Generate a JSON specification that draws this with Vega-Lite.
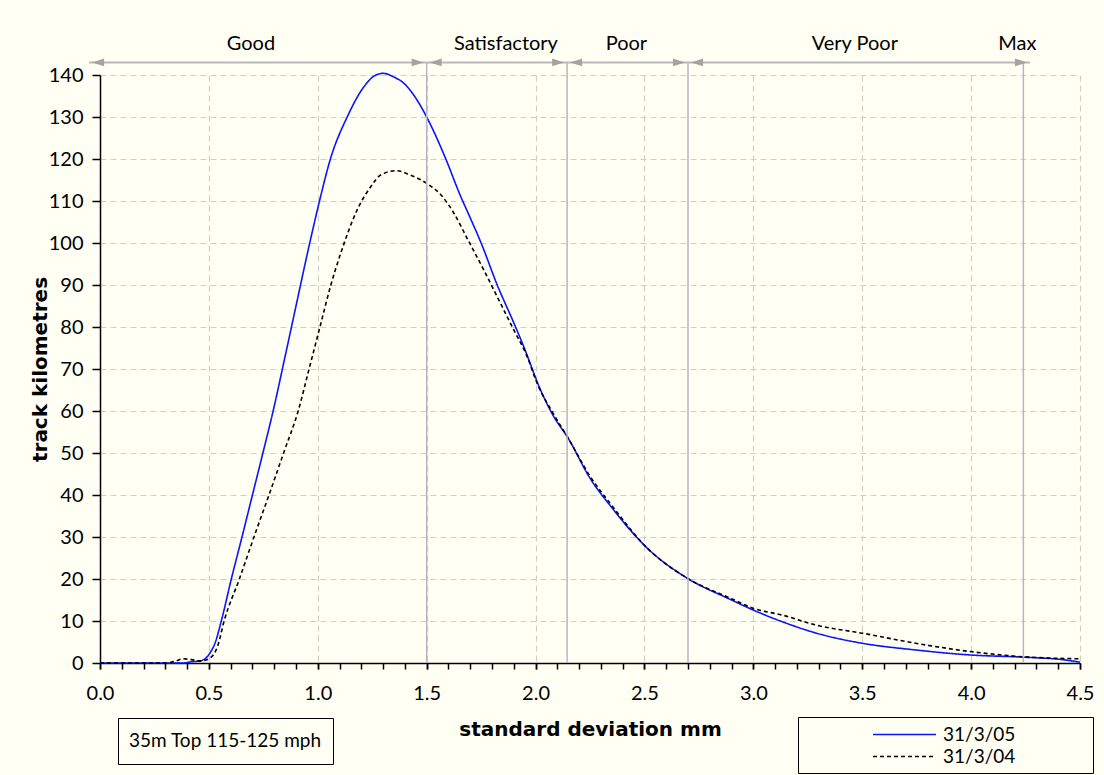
{
  "$schema": "https://vega.github.io/schema/vega-lite/v6.json",
  "width": 980,
  "height": 588,
  "autosize": {"type": "none"},
  "padding": {"left": 100, "top": 75, "right": 24, "bottom": 112},
  "background": "#fffff4",
  "config": {"font": "Lato", "view": {"stroke": null}},
  "resolve": {"axis": {"x": "independent"}},
  "datasets": {
    "curves": [
      {"sd": 0, "km": 0, "date": "31/3/05"},
      {"sd": 0.1, "km": 0, "date": "31/3/05"},
      {"sd": 0.2, "km": 0, "date": "31/3/05"},
      {"sd": 0.3, "km": 0, "date": "31/3/05"},
      {"sd": 0.38, "km": 0, "date": "31/3/05"},
      {"sd": 0.42, "km": 0.3, "date": "31/3/05"},
      {"sd": 0.46, "km": 0.5, "date": "31/3/05"},
      {"sd": 0.5, "km": 2, "date": "31/3/05"},
      {"sd": 0.53, "km": 5, "date": "31/3/05"},
      {"sd": 0.557, "km": 10, "date": "31/3/05"},
      {"sd": 0.603, "km": 20, "date": "31/3/05"},
      {"sd": 0.652, "km": 30, "date": "31/3/05"},
      {"sd": 0.7, "km": 40, "date": "31/3/05"},
      {"sd": 0.748, "km": 50, "date": "31/3/05"},
      {"sd": 0.795, "km": 60, "date": "31/3/05"},
      {"sd": 0.85, "km": 73, "date": "31/3/05"},
      {"sd": 0.9, "km": 85, "date": "31/3/05"},
      {"sd": 0.963, "km": 100, "date": "31/3/05"},
      {"sd": 1.008, "km": 110, "date": "31/3/05"},
      {"sd": 1.058, "km": 120, "date": "31/3/05"},
      {"sd": 1.135, "km": 130, "date": "31/3/05"},
      {"sd": 1.212, "km": 137.2, "date": "31/3/05"},
      {"sd": 1.26, "km": 139.8, "date": "31/3/05"},
      {"sd": 1.3, "km": 140.4, "date": "31/3/05"},
      {"sd": 1.35, "km": 139.5, "date": "31/3/05"},
      {"sd": 1.396, "km": 138, "date": "31/3/05"},
      {"sd": 1.45, "km": 134.5, "date": "31/3/05"},
      {"sd": 1.5, "km": 130, "date": "31/3/05"},
      {"sd": 1.58, "km": 121, "date": "31/3/05"},
      {"sd": 1.657, "km": 111, "date": "31/3/05"},
      {"sd": 1.7, "km": 106, "date": "31/3/05"},
      {"sd": 1.75, "km": 100, "date": "31/3/05"},
      {"sd": 1.824, "km": 90, "date": "31/3/05"},
      {"sd": 1.9, "km": 81, "date": "31/3/05"},
      {"sd": 1.946, "km": 75.3, "date": "31/3/05"},
      {"sd": 2.023, "km": 65, "date": "31/3/05"},
      {"sd": 2.08, "km": 59, "date": "31/3/05"},
      {"sd": 2.15, "km": 53.5, "date": "31/3/05"},
      {"sd": 2.25, "km": 44, "date": "31/3/05"},
      {"sd": 2.35, "km": 37, "date": "31/3/05"},
      {"sd": 2.52, "km": 27, "date": "31/3/05"},
      {"sd": 2.69, "km": 20.4, "date": "31/3/05"},
      {"sd": 2.9, "km": 15, "date": "31/3/05"},
      {"sd": 3.0, "km": 12.6, "date": "31/3/05"},
      {"sd": 3.134, "km": 9.8, "date": "31/3/05"},
      {"sd": 3.29, "km": 7.1, "date": "31/3/05"},
      {"sd": 3.5, "km": 4.7, "date": "31/3/05"},
      {"sd": 3.746, "km": 3.1, "date": "31/3/05"},
      {"sd": 4.0, "km": 1.9, "date": "31/3/05"},
      {"sd": 4.235, "km": 1.4, "date": "31/3/05"},
      {"sd": 4.42, "km": 0.8, "date": "31/3/05"},
      {"sd": 4.5, "km": 0.2, "date": "31/3/05"},
      {"sd": 0, "km": 0, "date": "31/3/04"},
      {"sd": 0.3, "km": 0, "date": "31/3/04"},
      {"sd": 0.35, "km": 0.5, "date": "31/3/04"},
      {"sd": 0.38, "km": 1, "date": "31/3/04"},
      {"sd": 0.42, "km": 0.8, "date": "31/3/04"},
      {"sd": 0.46, "km": 0.5, "date": "31/3/04"},
      {"sd": 0.5, "km": 1, "date": "31/3/04"},
      {"sd": 0.54, "km": 4, "date": "31/3/04"},
      {"sd": 0.57, "km": 10, "date": "31/3/04"},
      {"sd": 0.64, "km": 20, "date": "31/3/04"},
      {"sd": 0.707, "km": 30, "date": "31/3/04"},
      {"sd": 0.776, "km": 40, "date": "31/3/04"},
      {"sd": 0.843, "km": 50, "date": "31/3/04"},
      {"sd": 0.91, "km": 60, "date": "31/3/04"},
      {"sd": 0.96, "km": 70, "date": "31/3/04"},
      {"sd": 1.01, "km": 80, "date": "31/3/04"},
      {"sd": 1.06, "km": 90, "date": "31/3/04"},
      {"sd": 1.105, "km": 97.5, "date": "31/3/04"},
      {"sd": 1.182, "km": 108, "date": "31/3/04"},
      {"sd": 1.243, "km": 113.4, "date": "31/3/04"},
      {"sd": 1.289, "km": 116.2, "date": "31/3/04"},
      {"sd": 1.36, "km": 117.2, "date": "31/3/04"},
      {"sd": 1.42, "km": 116.3, "date": "31/3/04"},
      {"sd": 1.5, "km": 114.2, "date": "31/3/04"},
      {"sd": 1.565, "km": 111.5, "date": "31/3/04"},
      {"sd": 1.626, "km": 107, "date": "31/3/04"},
      {"sd": 1.687, "km": 101, "date": "31/3/04"},
      {"sd": 1.762, "km": 93.6, "date": "31/3/04"},
      {"sd": 1.824, "km": 87.2, "date": "31/3/04"},
      {"sd": 1.9, "km": 79.3, "date": "31/3/04"},
      {"sd": 1.962, "km": 72.9, "date": "31/3/04"},
      {"sd": 2.007, "km": 66.6, "date": "31/3/04"},
      {"sd": 2.08, "km": 59.5, "date": "31/3/04"},
      {"sd": 2.15, "km": 53.5, "date": "31/3/04"},
      {"sd": 2.25, "km": 44.5, "date": "31/3/04"},
      {"sd": 2.35, "km": 37.5, "date": "31/3/04"},
      {"sd": 2.52, "km": 27, "date": "31/3/04"},
      {"sd": 2.69, "km": 20.4, "date": "31/3/04"},
      {"sd": 2.9, "km": 15.3, "date": "31/3/04"},
      {"sd": 3.0, "km": 13, "date": "31/3/04"},
      {"sd": 3.134, "km": 11.4, "date": "31/3/04"},
      {"sd": 3.29, "km": 9.0, "date": "31/3/04"},
      {"sd": 3.5, "km": 7.1, "date": "31/3/04"},
      {"sd": 3.746, "km": 4.7, "date": "31/3/04"},
      {"sd": 4.0, "km": 2.7, "date": "31/3/04"},
      {"sd": 4.235, "km": 1.5, "date": "31/3/04"},
      {"sd": 4.5, "km": 1.0, "date": "31/3/04"}
    ],
    "bounds": [{"b": 1.5}, {"b": 2.145}, {"b": 2.7}, {"b": 4.24}],
    "zones": [
      {"zone": "Good", "start": -0.05, "end": 1.5},
      {"zone": "Satisfactory", "start": 1.5, "end": 2.145},
      {"zone": "Poor", "start": 2.145, "end": 2.7},
      {"zone": "Very Poor", "start": 2.7, "end": 4.27}
    ],
    "zoneLabels": [
      {"label": "Good", "lx": 0.693},
      {"label": "Satisfactory", "lx": 1.864},
      {"label": "Poor", "lx": 2.417},
      {"label": "Very Poor", "lx": 3.466},
      {"label": "Max", "lx": 4.212}
    ],
    "note": [{"note": "35m Top 115-125 mph"}]
  },
  "layer": [
    {
      "data": {"name": "curves"},
      "mark": {"type": "line", "interpolate": "monotone", "strokeWidth": 1.6},
      "encoding": {
        "x": {
          "field": "sd",
          "type": "quantitative",
          "scale": {"domain": [0, 4.5], "nice": false, "zero": false},
          "axis": {
            "orient": "bottom",
            "title": "standard deviation mm",
            "values": [0, 0.5, 1.0, 1.5, 2.0, 2.5, 3.0, 3.5, 4.0, 4.5],
            "format": ".1f",
            "grid": true,
            "gridColor": "#cfcfc2",
            "gridDash": [6, 4],
            "gridWidth": 1.2,
            "domainColor": "#000000",
            "domainWidth": 1.5,
            "tickColor": "#000000",
            "tickSize": 6,
            "tickWidth": 1.5,
            "labelFont": "Lato",
            "labelFontSize": 20,
            "labelColor": "#000000",
            "labelPadding": 14,
            "labelFlush": false,
            "labelOverlap": false,
            "titleFont": "DejaVu Sans",
            "titleFontSize": 20,
            "titleFontWeight": "bold",
            "titleColor": "#000000",
            "titlePadding": 16
          }
        },
        "y": {
          "field": "km",
          "type": "quantitative",
          "scale": {"domain": [0, 140], "nice": false},
          "axis": {
            "title": "track kilometres",
            "values": [0, 10, 20, 30, 40, 50, 60, 70, 80, 90, 100, 110, 120, 130, 140],
            "grid": true,
            "gridColor": "#cfcfc2",
            "gridDash": [6, 4],
            "gridWidth": 1.2,
            "domainColor": "#000000",
            "domainWidth": 1.5,
            "tickColor": "#000000",
            "tickSize": 8,
            "tickWidth": 1.5,
            "labelFont": "Lato",
            "labelFontSize": 20,
            "labelColor": "#000000",
            "labelPadding": 9,
            "titleFont": "DejaVu Sans",
            "titleFontSize": 20,
            "titleFontWeight": "bold",
            "titleColor": "#000000",
            "titlePadding": -2
          }
        },
        "color": {
          "field": "date",
          "type": "nominal",
          "scale": {"domain": ["31/3/05", "31/3/04"], "range": ["#0a14ff", "#000000"]},
          "legend": {
            "title": null,
            "orient": "none",
            "legendX": 698,
            "legendY": 642,
            "strokeColor": "#000000",
            "padding": 6,
            "symbolType": "M-3,0H3M17,0",
            "symbolSize": 441,
            "symbolOffset": 89,
            "symbolStrokeWidth": 1.6,
            "labelFont": "Lato",
            "labelFontSize": 19,
            "labelColor": "#000000",
            "labelOffset": 27,
            "labelLimit": 0,
            "rowPadding": 0
          }
        },
        "strokeDash": {
          "field": "date",
          "type": "nominal",
          "scale": {"domain": ["31/3/05", "31/3/04"], "range": [[1, 0], [4, 3]]},
          "legend": {
            "title": null,
            "orient": "none",
            "legendX": 698,
            "legendY": 642,
            "strokeColor": "#000000",
            "padding": 6,
            "symbolType": "M-3,0H3M17,0",
            "symbolSize": 441,
            "symbolOffset": 89,
            "symbolStrokeWidth": 1.6,
            "labelFont": "Lato",
            "labelFontSize": 19,
            "labelColor": "#000000",
            "labelOffset": 27,
            "labelLimit": 0,
            "rowPadding": 0
          }
        }
      }
    },
    {
      "data": {"name": "bounds"},
      "mark": {"type": "rule", "color": "#b6b6c6", "strokeWidth": 1.5},
      "encoding": {
        "x": {
          "field": "b",
          "type": "quantitative",
          "scale": {"domain": [0, 4.5], "nice": false, "zero": false},
          "axis": {
            "orient": "bottom",
            "title": null,
            "values": [0, 0.1, 0.2, 0.3, 0.4, 0.5, 0.6, 0.7, 0.8, 0.9, 1.0, 1.1, 1.2, 1.3, 1.4, 1.5, 1.6, 1.7, 1.8, 1.9, 2.0, 2.1, 2.2, 2.3, 2.4, 2.5, 2.6, 2.7, 2.8, 2.9, 3.0, 3.1, 3.2, 3.3, 3.4, 3.5, 3.6, 3.7, 3.8, 3.9, 4.0, 4.1, 4.2, 4.3, 4.4, 4.5],
            "labels": false,
            "grid": false,
            "domain": false,
            "ticks": true,
            "tickColor": "#000000",
            "tickSize": 6,
            "tickWidth": 1.5
          }
        },
        "y": {"datum": 0, "type": "quantitative", "scale": {"domain": [0, 140], "nice": false}},
        "y2": {"datum": 143}
      }
    },
    {
      "data": {"name": "zones"},
      "mark": {"type": "rule", "color": "#b8b8bc", "strokeWidth": 2},
      "encoding": {
        "x": {"field": "start", "type": "quantitative", "scale": {"domain": [0, 4.5], "nice": false, "zero": false}, "axis": null},
        "x2": {"field": "end"},
        "y": {"datum": 143, "type": "quantitative", "scale": {"domain": [0, 140], "nice": false}}
      }
    },
    {
      "data": {"name": "zones"},
      "mark": {"type": "point", "shape": "M1,-0.65L-1,0L1,0.65Z", "filled": true, "size": 144, "color": "#a4a49c", "opacity": 1, "xOffset": 9},
      "encoding": {
        "x": {"field": "start", "type": "quantitative", "scale": {"domain": [0, 4.5], "nice": false, "zero": false}, "axis": null},
        "y": {"datum": 143, "type": "quantitative", "scale": {"domain": [0, 140], "nice": false}}
      }
    },
    {
      "data": {"name": "zones"},
      "mark": {"type": "point", "shape": "M-1,-0.65L1,0L-1,0.65Z", "filled": true, "size": 144, "color": "#a4a49c", "opacity": 1, "xOffset": -9},
      "encoding": {
        "x": {"field": "end", "type": "quantitative", "scale": {"domain": [0, 4.5], "nice": false, "zero": false}, "axis": null},
        "y": {"datum": 143, "type": "quantitative", "scale": {"domain": [0, 140], "nice": false}}
      }
    },
    {
      "data": {"name": "zoneLabels"},
      "mark": {"type": "text", "fontSize": 20, "font": "Lato", "color": "#000000", "align": "center", "baseline": "alphabetic"},
      "encoding": {
        "x": {"field": "lx", "type": "quantitative", "scale": {"domain": [0, 4.5], "nice": false, "zero": false}, "axis": null},
        "y": {"datum": 146, "type": "quantitative", "scale": {"domain": [0, 140], "nice": false}},
        "text": {"field": "label"}
      }
    },
    {
      "data": {"name": "note"},
      "mark": {"type": "point", "opacity": 0},
      "encoding": {
        "x": {"datum": 0, "type": "quantitative", "scale": {"domain": [0, 4.5], "nice": false, "zero": false}, "axis": null},
        "y": {"datum": 0, "type": "quantitative", "scale": {"domain": [0, 140], "nice": false}},
        "shape": {
          "field": "note",
          "type": "nominal",
          "legend": {
            "title": null,
            "orient": "none",
            "legendX": 18,
            "legendY": 643,
            "strokeColor": "#000000",
            "padding": 11,
            "symbolType": "square",
            "symbolSize": 576,
            "symbolOpacity": 0,
            "symbolStrokeWidth": 0,
            "labelOffset": -24,
            "labelLimit": 0,
            "labelFontSize": 19,
            "labelFont": "Lato",
            "labelColor": "#000000"
          }
        }
      }
    }
  ]
}
